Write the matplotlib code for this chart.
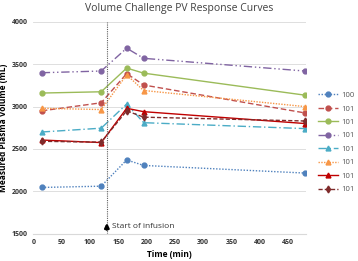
import numpy as np
import matplotlib
matplotlib.use("Agg")
import matplotlib.pyplot as plt

# time points (min)
times = [15, 120, 165, 195, 480]

# measured plasma volume (mL) per subject
labels = ["100", "101", "101", "101", "101", "101", "101", "101"]
pv_1 = [2045, 2060, 2370, 2305, 2215]
pv_2 = [2950, 3045, 3390, 3255, 2925]
pv_3 = [3160, 3175, 3455, 3395, 3135]
pv_4 = [3400, 3420, 3690, 3570, 3420]
pv_5 = [2700, 2745, 3030, 2810, 2740]
pv_6 = [2980, 2965, 3375, 3190, 3000]
pv_7 = [2605, 2575, 2980, 2940, 2800]
pv_8 = [2590, 2580, 2950, 2875, 2830]

infusion_start = 130

series = [pv_1, pv_2, pv_3, pv_4, pv_5, pv_6, pv_7, pv_8]
colors = ["#4F81BD", "#C0504D", "#9BBB59", "#8064A2",
          "#4BACC6", "#F79646", "#C00000", "#7F2B2B"]
styles = [(0, (1, 1.2)), (0, (4, 2)), "-", (0, (6, 2, 1, 2, 1, 2)),
          (0, (6, 2, 1, 2)), (0, (1, 1)), "-", (0, (3, 1.5))]
markers = ["o", "o", "o", "o", "^", "^", "^", "d"]

plt.rcParams["font.family"] = ["Open Sans", "DejaVu Sans"]

fig = plt.figure(figsize=(3.58, 2.61), dpi=100)
ax = fig.add_axes([0.093, 0.105, 0.762, 0.811])

for vals, c, ls, mk, lab in zip(series, colors, styles, markers, labels):
    ax.plot(times, vals, color=c, linestyle=ls, linewidth=1.0,
            marker=mk, markersize=3.5, label=lab)

ax.axvline(infusion_start, color="#606060", linestyle=(0, (1, 1)), linewidth=0.8)
ax.annotate("", xy=(infusion_start, 1660), xytext=(infusion_start, 1515),
            arrowprops=dict(arrowstyle="-|>", color="black", lw=1.8,
                            mutation_scale=6))
ax.text(infusion_start + 9, 1585, "Start of infusion", fontsize=6,
        va="center", color="#333333")

ax.set_xlim(0, 482)
ax.set_ylim(1500, 4000)
ax.set_xticks(range(0, 451, 50))
ax.set_yticks(range(1500, 4001, 500))
ax.grid(axis="y", color="#D9D9D9", linewidth=0.6)
ax.set_axisbelow(True)
for s in ["top", "right", "left"]:
    ax.spines[s].set_visible(False)
ax.spines["bottom"].set_color("#D9D9D9")
ax.tick_params(length=0, labelsize=5, pad=4, colors="#333333")
for t in ax.get_xticklabels() + ax.get_yticklabels():
    t.set_fontweight("bold")

ax.set_xlabel("Time (min)", fontsize=6, fontweight="bold", labelpad=3)
ax.set_ylabel("Measured Plasma Volume (mL)", fontsize=6, fontweight="bold", labelpad=3)
fig.suptitle("Volume Challenge PV Response Curves", fontsize=7.5, color="#404040", y=0.99)

ax.legend(loc="upper left", bbox_to_anchor=(1.045, 0.67), frameon=False,
          fontsize=5.5, handlelength=2.6, handletextpad=0.4, labelspacing=0.8,
          borderaxespad=0, borderpad=0, labelcolor="#555555")

plt.savefig("out.png", dpi=100)
plt.close()
